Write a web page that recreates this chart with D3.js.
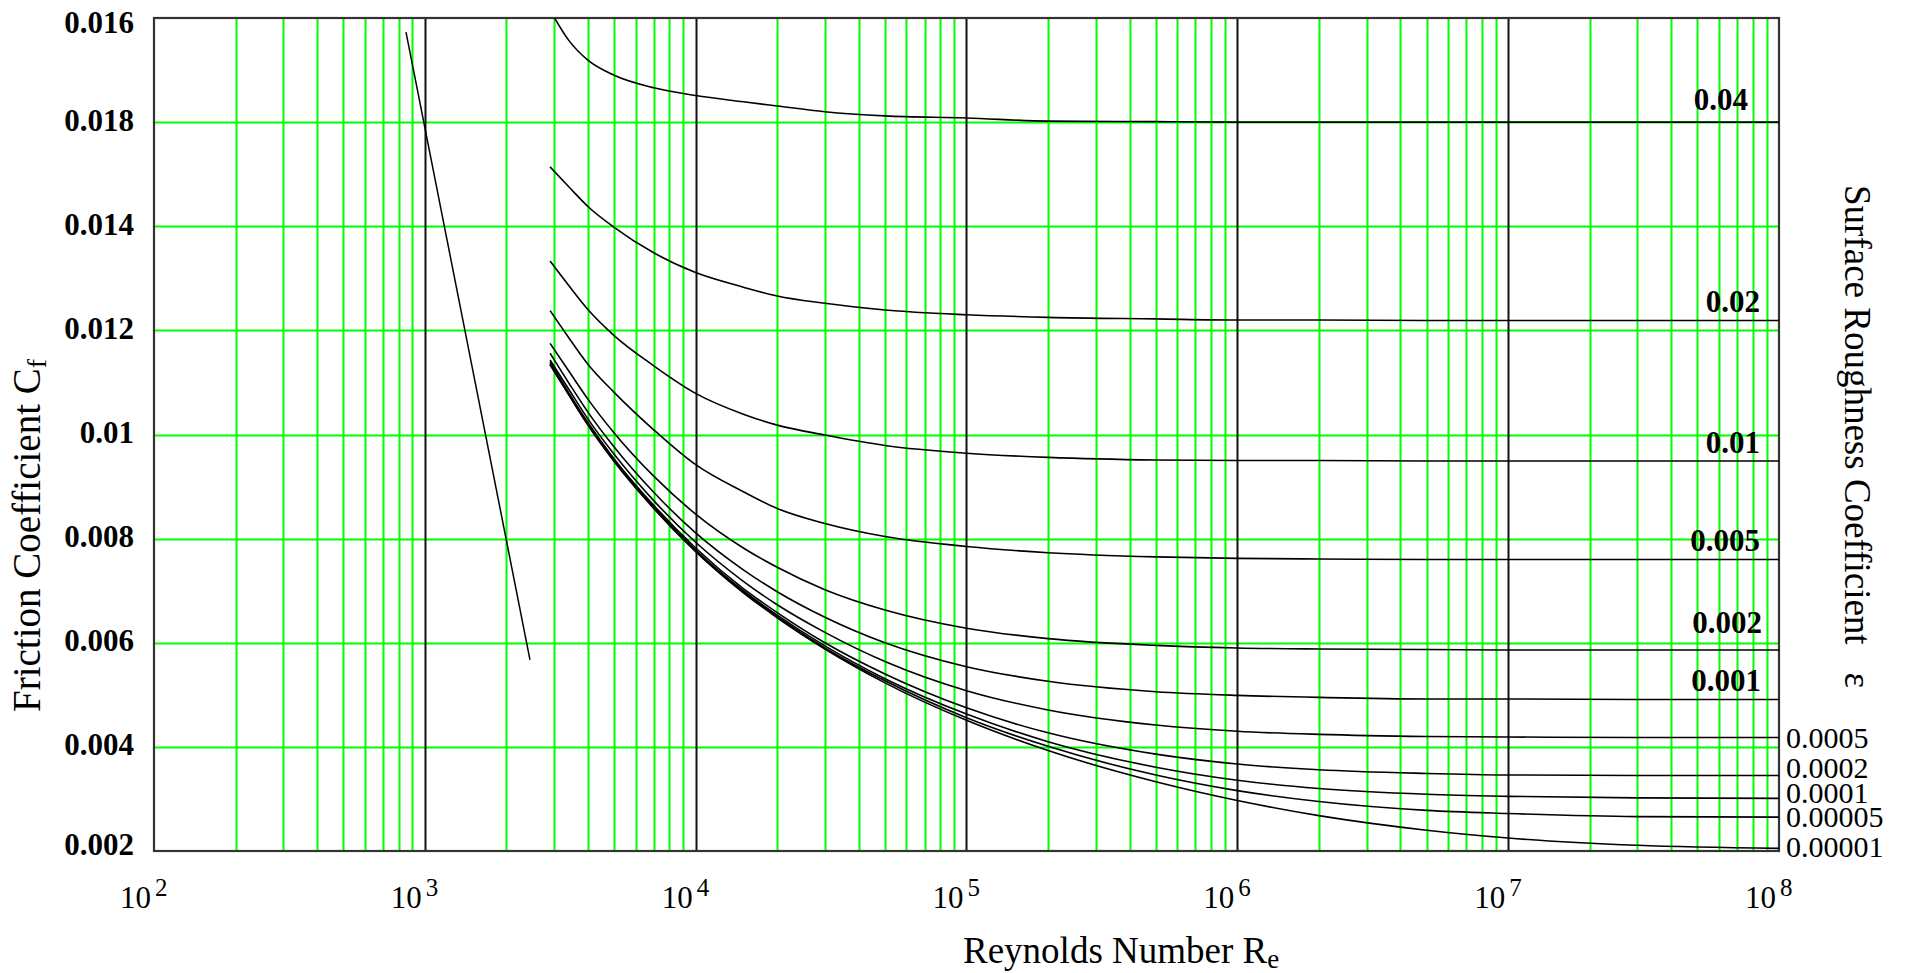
<!DOCTYPE html>
<html>
<head>
<meta charset="utf-8">
<script src="https://cdn.jsdelivr.net/npm/d3@7"></script>
<style>
  body { margin: 0; background: #ffffff; }
  svg text { font-family: "Liberation Serif", "Times New Roman", serif; fill: #000; }
</style>
</head>
<body>
<div id="chart"></div>
<script>
var reynolds = [2900, 3400, 4000, 5000, 7000, 1e4, 1.5e4, 2e4, 3e4, 5e4, 1e5, 2e5, 5e5, 1e6, 2e6, 5e6, 1e7, 3e7, 1e8];

// surface roughness labels, one per curve
var roughness = ["0.04", "0.02", "0.01", "0.005", "0.002", "0.001", "0.0005", "0.0002", "0.0001", "0.00005", "0.00001"];

// friction coefficient for each roughness, at the reynolds numbers above
var cf_04    = [0.01815, 0.01757, 0.01719, 0.0169, 0.01666, 0.01651, 0.01639, 0.01631, 0.0162, 0.01612, 0.01608, 0.01602, 0.01601, 0.016, 0.016, 0.016, 0.016, 0.016, 0.016];
var cf_02    = [0.01514, 0.01476, 0.01438, 0.01398, 0.01349, 0.01311, 0.01283, 0.01266, 0.01252, 0.01239, 0.0123, 0.01225, 0.01222, 0.0122, 0.0122, 0.01219, 0.01219, 0.01219, 0.01219];
var cf_01    = [0.01333, 0.01286, 0.0124, 0.0119, 0.01132, 0.01079, 0.01039, 0.01018, 0.00999, 0.00979, 0.00964, 0.00956, 0.00951, 0.0095, 0.0095, 0.00949, 0.00949, 0.00949, 0.00949];
var cf_005   = [0.01238, 0.01186, 0.01135, 0.01081, 0.01009, 0.00942, 0.0089, 0.00858, 0.00829, 0.00804, 0.00785, 0.00773, 0.00765, 0.00762, 0.00761, 0.0076, 0.0076, 0.0076, 0.0076];
var cf_002   = [0.01175, 0.01122, 0.01068, 0.01003, 0.0092, 0.00847, 0.00782, 0.00745, 0.00702, 0.00663, 0.00628, 0.00608, 0.00595, 0.0059, 0.00588, 0.00587, 0.00586, 0.00586, 0.00586];
var cf_001   = [0.01156, 0.01099, 0.01043, 0.00976, 0.00889, 0.00811, 0.0074, 0.00698, 0.00649, 0.006, 0.00554, 0.00526, 0.00506, 0.00499, 0.00495, 0.00492, 0.00492, 0.00491, 0.00491];
var cf_0005  = [0.01143, 0.01087, 0.0103, 0.00962, 0.00873, 0.00793, 0.00718, 0.00673, 0.0062, 0.00564, 0.00508, 0.00471, 0.00442, 0.0043, 0.00424, 0.0042, 0.00419, 0.00418, 0.00418];
var cf_0002  = [0.01139, 0.0108, 0.01023, 0.00953, 0.00864, 0.00782, 0.00704, 0.00658, 0.006, 0.0054, 0.00475, 0.00427, 0.00386, 0.00367, 0.00356, 0.00349, 0.00346, 0.00345, 0.00345];
var cf_0001  = [0.01136, 0.01078, 0.0102, 0.00951, 0.00861, 0.00778, 0.007, 0.00653, 0.00594, 0.00531, 0.00463, 0.0041, 0.00361, 0.00336, 0.0032, 0.00309, 0.00305, 0.00302, 0.00301];
var cf_00005 = [0.01135, 0.01077, 0.01019, 0.00949, 0.00859, 0.00776, 0.00698, 0.0065, 0.0059, 0.00527, 0.00456, 0.00401, 0.00346, 0.00316, 0.00295, 0.00278, 0.00272, 0.00266, 0.00265];
var cf_00001 = [0.01134, 0.01076, 0.01018, 0.00948, 0.00858, 0.00775, 0.00696, 0.00648, 0.00588, 0.00523, 0.00451, 0.00393, 0.00333, 0.00297, 0.00268, 0.0024, 0.00225, 0.00211, 0.00205];

// laminar branch (two end points)
var laminarRe = [852, 2445];
var laminarCf = [0.01773, 0.00567];

// y gridline values and the labels printed next to them (as in the original)
var yTickValues = [0.018, 0.016, 0.014, 0.012, 0.01, 0.008, 0.006, 0.004, 0.002];
var yTickLabels = ["0.016", "0.018", "0.014", "0.012", "0.01", "0.008", "0.006", "0.004", "0.002"];

// powers of ten on the x axis
var xTickExponents = [2, 3, 4, 5, 6, 7, 8];

var curves = [cf_04, cf_02, cf_01, cf_005, cf_002, cf_001, cf_0005, cf_0002, cf_0001, cf_00005, cf_00001];

var svgwidth = 1910;
var svgheight = 973;

// plot box
var plotLeft = 154, plotRight = 1779, plotTop = 18, plotBottom = 851;

// nudge of each roughness label relative to the end of its curve
var labelNudge = [-12, -8, -8, -8, -17, -8, 10, 2, 5, 10, 9];
var labelShift = [-12, 0, 0, 0, 2, 1, 0, 0, 0, 0, 0];

var svg = d3.select("#chart")
            .append("svg")
            .attr("width", svgwidth)
            .attr("height", svgheight);

var xscale = d3.scaleLog()
                .domain([1e2, 1e8])
                .range([plotLeft, plotRight]);

var yscale = d3.scaleLinear()
                .domain([0.002, 0.018])
                .range([plotBottom, plotTop]);

svg.append("defs").append("clipPath")
    .attr("id", "plotclip")
    .append("rect")
    .attr("x", plotLeft).attr("y", plotTop)
    .attr("width", plotRight - plotLeft).attr("height", plotBottom - plotTop);

var grid = svg.append("g").attr("class", "grid");

// vertical grid: green for 2..9, black for the decades
var xticks = xscale.ticks();
var isDecade = function(d) { return Math.abs(Math.log10(d) - Math.round(Math.log10(d))) < 1e-9; };

grid.selectAll("line.vminor")
    .data(xticks.filter(function(d) { return !isDecade(d); }))
    .join("line")
    .attr("class", "vminor")
    .attr("x1", function(d) { return Math.round(xscale(d)) + 0.5; })
    .attr("x2", function(d) { return Math.round(xscale(d)) + 0.5; })
    .attr("y1", plotTop).attr("y2", plotBottom)
    .style("stroke", "#00ff00")
    .style("stroke-width", 2);

// horizontal grid lines
grid.selectAll("line.h")
    .data(yTickValues.slice(1, -1))
    .join("line")
    .attr("class", "h")
    .attr("x1", plotLeft).attr("x2", plotRight)
    .attr("y1", function(d) { return Math.round(yscale(d)) + 0.5; })
    .attr("y2", function(d) { return Math.round(yscale(d)) + 0.5; })
    .style("stroke", "#00ff00")
    .style("stroke-width", 2);

grid.selectAll("line.vmajor")
    .data(xticks.filter(function(d) { return isDecade(d) && d > 1e2 && d < 1e8; }))
    .join("line")
    .attr("class", "vmajor")
    .attr("x1", function(d) { return Math.round(xscale(d)) + 0.5; })
    .attr("x2", function(d) { return Math.round(xscale(d)) + 0.5; })
    .attr("y1", plotTop).attr("y2", plotBottom)
    .style("stroke", "#111")
    .style("stroke-width", 2);

// frame
svg.append("rect")
    .attr("x", plotLeft).attr("y", plotTop)
    .attr("width", plotRight - plotLeft).attr("height", plotBottom - plotTop)
    .style("fill", "none")
    .style("stroke", "#333")
    .style("stroke-width", 2.2);

var line = d3.line()
    .x(function(d) { return xscale(d[0]); })
    .y(function(d) { return yscale(d[1]); })
    .curve(d3.curveMonotoneX);

var plot = svg.append("g").attr("clip-path", "url(#plotclip)");

plot.selectAll("path.curve")
    .data(curves)
    .join("path")
    .attr("class", "curve")
    .attr("d", function(c) { return line(c.map(function(v, i) { return [reynolds[i], v]; })); })
    .style("fill", "none")
    .style("stroke", "#000")
    .style("stroke-width", 1.6);

// laminar line
plot.append("path")
    .attr("d", d3.line()
        .x(function(d) { return xscale(d[0]); })
        .y(function(d) { return yscale(d[1]); })(laminarRe.map(function(r, i) { return [r, laminarCf[i]]; })))
    .style("fill", "none")
    .style("stroke", "#000")
    .style("stroke-width", 1.5);

// roughness labels at the right end of each curve
svg.append("g")
    .selectAll("text")
    .data(roughness)
    .join("text")
    .attr("x", function(d, i) { return (i < 6 ? plotRight - 19 : plotRight + 7) + labelShift[i]; })
    .attr("y", function(d, i) { return yscale(curves[i][curves[i].length - 1]) + labelNudge[i]; })
    .style("text-anchor", function(d, i) { return i < 6 ? "end" : "start"; })
    .style("font-size", function(d, i) { return i < 6 ? "31px" : "30px"; })
    .style("font-weight", function(d, i) { return i < 6 ? "bold" : "normal"; })
    .text(function(d) { return d; });

// y tick labels
svg.append("g")
    .selectAll("text")
    .data(yTickValues)
    .join("text")
    .attr("x", 134)
    .attr("y", function(d) { return Math.max(22, Math.min(844, yscale(d) - 2)) + 10.5; })
    .style("text-anchor", "end")
    .style("font-size", "31px")
    .style("font-weight", "bold")
    .text(function(d, i) { return yTickLabels[i]; });

// x tick labels: 10 with a raised exponent
var xlab = svg.append("g");
xlab.selectAll("text.base")
    .data(xTickExponents)
    .join("text")
    .attr("class", "base")
    .attr("x", function(d) { return xscale(Math.pow(10, d)) - 3; })
    .attr("y", 908)
    .style("text-anchor", "end")
    .style("font-size", "31px")
    .text("10");

xlab.selectAll("text.exp")
    .data(xTickExponents)
    .join("text")
    .attr("class", "exp")
    .attr("x", function(d) { return xscale(Math.pow(10, d)) + 1; })
    .attr("y", 896)
    .style("text-anchor", "start")
    .style("font-size", "25px")
    .text(function(d) { return d; });

// X axis title
var xt = svg.append("text")
    .attr("x", 963)
    .attr("y", 963)
    .style("font-size", "37px");
xt.append("tspan").text("Reynolds Number R");
xt.append("tspan").attr("dy", 5).style("font-size", "27px").text("e");

// Y axis title
var yt = svg.append("text")
    .attr("transform", "translate(40,712) rotate(-90)")
    .style("font-size", "39px");
yt.append("tspan").text("Friction Coefficient C");
yt.append("tspan").attr("dy", 6).style("font-size", "28px").text("f");

// right title
svg.append("text")
    .attr("transform", "translate(1845,185) rotate(90)")
    .style("font-size", "37px")
    .text("Surface Roughness Coefficient \u00a0 \u03b5");
</script>
</body>
</html>
